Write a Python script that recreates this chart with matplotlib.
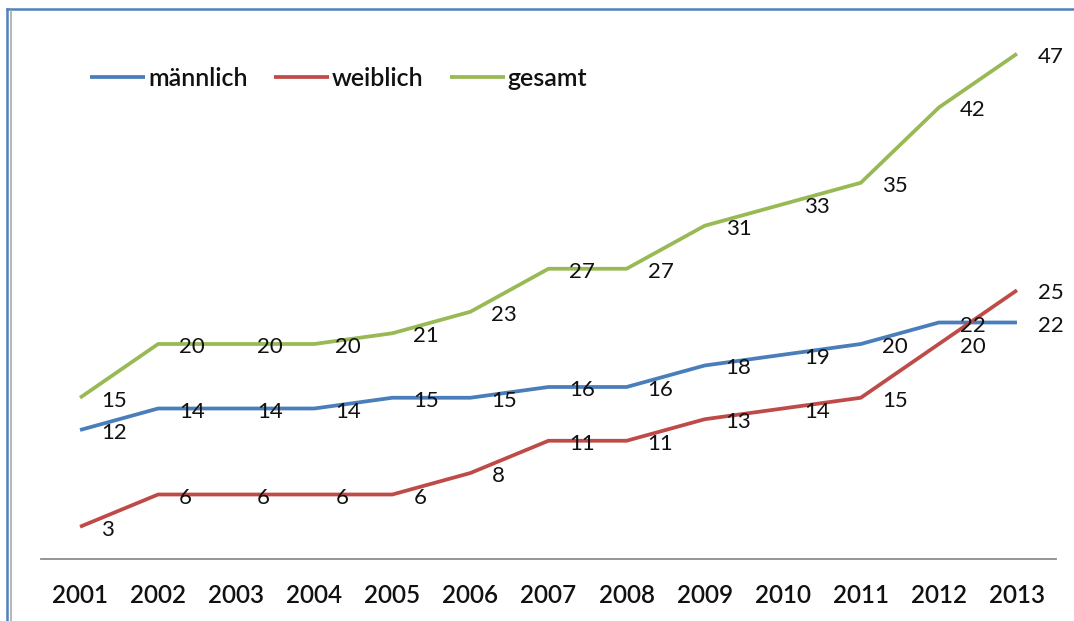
import matplotlib
matplotlib.use("Agg")
import matplotlib.pyplot as plt
from matplotlib.lines import Line2D

years = ['2001', '2002', '2003', '2004', '2005', '2006', '2007',
         '2008', '2009', '2010', '2011', '2012', '2013']
maennlich = [12, 14, 14, 14, 15, 15, 16, 16, 18, 19, 20, 22, 22]
weiblich = [3, 6, 6, 6, 6, 8, 11, 11, 13, 14, 15, 20, 25]
gesamt = [15, 20, 20, 20, 21, 23, 27, 27, 31, 33, 35, 42, 47]

series = [('männlich', maennlich, '#4a7ebb'),
          ('weiblich', weiblich, '#be4b48'),
          ('gesamt', gesamt, '#98b954')]

plt.rcParams['font.family'] = ['Lato', 'DejaVu Sans']

W, H = 1074, 621
fig = plt.figure(figsize=(W / 100, H / 100), dpi=100)
ax = fig.add_axes([41 / W, (H - 559) / H, (1056 - 41) / W, 537.5 / H])

x = list(range(len(years)))
for name, vals, col in series:
    ax.plot(x, vals, color=col, lw=2.7, label=name, solid_capstyle='butt')
    for xi, v in zip(x, vals):
        ax.annotate(str(v), (xi, v), xytext=(21, -3), textcoords='offset pixels',
                    ha='left', va='center', fontsize=16, color='#111111')

ax.set_xlim(-0.5, len(years) - 0.5)
ax.set_ylim(0, 50)
ax.set_xticks(x)
ax.set_xticklabels(years, fontsize=17.5, fontweight='semibold', color='#111111')
ax.tick_params(axis='x', length=0, pad=18)
ax.set_yticks([])
for s in ['top', 'right', 'left']:
    ax.spines[s].set_visible(False)
ax.spines['bottom'].set_color('#8c8c8c')
ax.spines['bottom'].set_linewidth(1.3)

leg = ax.legend(loc='center left', bbox_to_anchor=(90 / W, (H - 78) / H),
                bbox_transform=fig.transFigure, ncol=3, frameon=False,
                fontsize=18, handlelength=2.2, handletextpad=0.12,
                columnspacing=1.05, borderpad=0, borderaxespad=0)
for t in leg.get_texts():
    t.set_fontweight('semibold')
    t.set_color('#111111')

# chart border like the screenshot
fig.add_artist(Line2D([7 / W, 7 / W], [0, (H - 9) / H], color='#4f81bd', lw=1.8,
                      transform=fig.transFigure))
fig.add_artist(Line2D([7 / W, 1], [(H - 9) / H, (H - 9) / H], color='#4f81bd', lw=1.8,
                      transform=fig.transFigure))
fig.add_artist(Line2D([11 / W, 11 / W], [0, (H - 11) / H], color='#b0b0b0', lw=1.3,
                      transform=fig.transFigure))

fig.savefig('out.png', dpi=100)
